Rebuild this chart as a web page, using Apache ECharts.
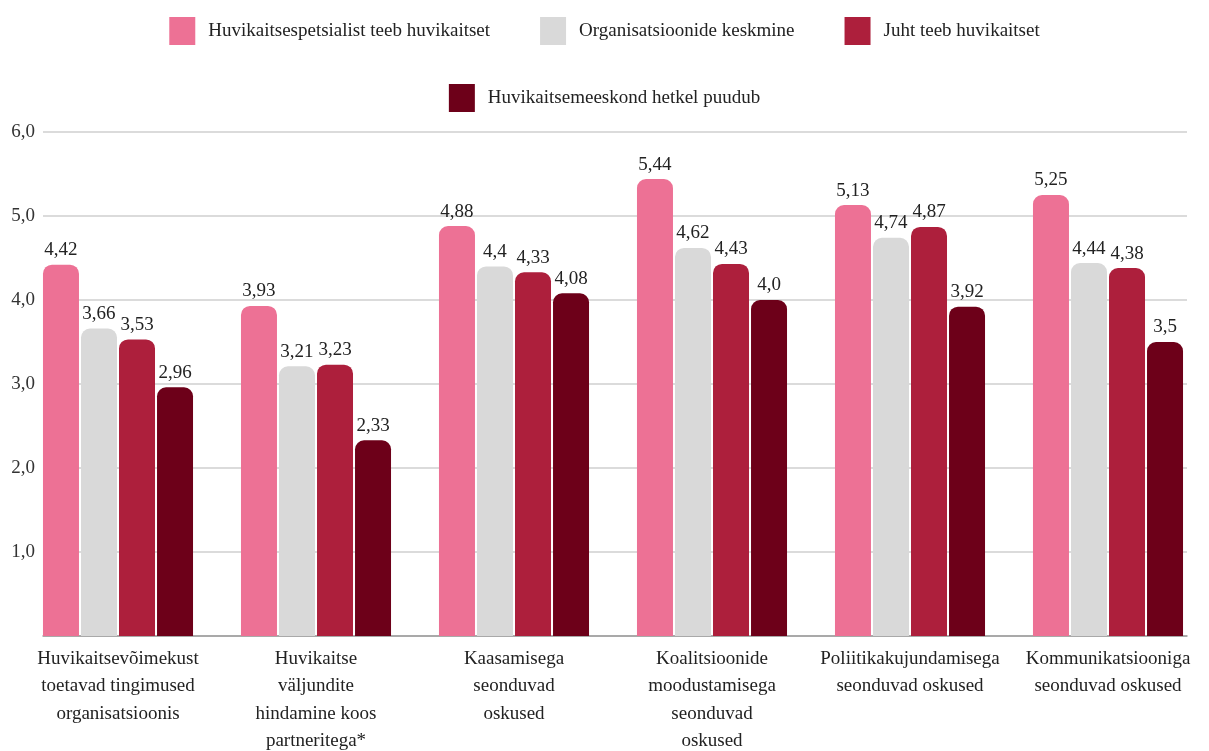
<!DOCTYPE html>
<html>
<head>
<meta charset="utf-8">
<script src="https://cdn.jsdelivr.net/npm/echarts@6/dist/echarts.min.js"></script>
<style>
  html, body { margin: 0; padding: 0; background: #fff; }
  #chart { width: 1209px; height: 751px; }
</style>
</head>
<body>
<div id="chart"></div>
<script>
// kategooriad (x-telg)
const categories = [
    'Huvikaitsevõimekust\ntoetavad tingimused\norganisatsioonis',
    'Huvikaitse\nväljundite\nhindamine koos\npartneritega*',
    'Kaasamisega\nseonduvad\noskused',
    'Koalitsioonide\nmoodustamisega\nseonduvad\noskused',
    'Poliitikakujundamisega\nseonduvad oskused',
    'Kommunikatsiooniga\nseonduvad oskused'
]
const seriesNames = [
    'Huvikaitsespetsialist teeb huvikaitset',
    'Organisatsioonide keskmine',
    'Juht teeb huvikaitset',
    'Huvikaitsemeeskond hetkel puudub'
]
const spetsialist = [4.42, 3.93, 4.88, 5.44, 5.13, 5.25]
const keskmine = [3.66, 3.21, 4.4, 4.62, 4.74, 4.44]
const juht = [3.53, 3.23, 4.33, 4.43, 4.87, 4.38]
const puudub = [2.96, 2.33, 4.08, 4.0, 3.92, 3.5]
const yTicks = [0, 1, 2, 3, 4, 5, 6]

const colors = ['#ED7195', '#D9D9D9', '#AD1F3C', '#6D0019']
const font = 'Liberation Serif'

// koma kümnendmärgina
function fmt(v) {
    const s = Math.round(v * 10) === v * 10 ? v.toFixed(1) : v.toFixed(2)
    return s.replace('.', ',')
}

const allData = [spetsialist, keskmine, juht, puudub]
const series = allData.map((d, i) => ({
    name: seriesNames[i],
    type: 'bar',
    xAxisIndex: 1,
    yAxisIndex: 1,
    data: d,
    barWidth: 36,
    barGap: '5.6%',
    itemStyle: { color: colors[i], borderRadius: [9, 9, 0, 0] },
    label: {
        show: true,
        position: 'top',
        distance: 5,
        formatter: p => fmt(p.value),
        fontFamily: font,
        fontSize: 19,
        color: '#222'
    }
}))

const chart = echarts.init(document.getElementById('chart'))
chart.setOption({
    animation: false,
    textStyle: { fontFamily: font },
    legend: [
        {
            data: seriesNames.slice(0, 3),
            top: 12,
            left: 'center',
            itemWidth: 26,
            itemHeight: 28,
            itemGap: 50,
            icon: 'rect',
            textStyle: { fontFamily: font, fontSize: 19, color: '#222', padding: [0, 0, 0, 8] }
        },
        {
            data: seriesNames.slice(3),
            top: 79,
            left: 'center',
            itemWidth: 26,
            itemHeight: 28,
            icon: 'rect',
            textStyle: { fontFamily: font, fontSize: 19, color: '#222', padding: [0, 0, 0, 8] }
        }
    ],
    grid: [
        // ruudustik ja y-telg
        { left: 43, right: 22, top: 132, bottom: 115, outerBoundsMode: 'none' },
        // tulbad
        { left: 19, right: 2, top: 132, bottom: 115, outerBoundsMode: 'none' }
    ],
    xAxis: [
        {
            gridIndex: 0,
            type: 'category',
            data: categories,
            axisLine: { lineStyle: { color: '#999', width: 1.5 } },
            axisTick: { show: false },
            axisLabel: { show: false }
        },
        {
            gridIndex: 1,
            type: 'category',
            data: categories,
            axisLine: { show: false },
            axisTick: { show: false },
            axisLabel: {
                margin: 9,
                fontFamily: font,
                fontSize: 19,
                lineHeight: 27.5,
                color: '#222',
                interval: 0
            }
        }
    ],
    yAxis: [
        {
            gridIndex: 0,
            type: 'value',
            min: yTicks[0],
            max: yTicks[yTicks.length - 1],
            interval: 1,
            axisLine: { show: false },
            axisTick: { show: false },
            splitLine: { lineStyle: { color: '#cfcfcf', width: 1.5 } },
            axisLabel: {
                margin: 8,
                fontFamily: font,
                fontSize: 19,
                color: '#333',
                formatter: v => (v === 0 ? '' : v.toFixed(1).replace('.', ','))
            }
        },
        {
            gridIndex: 1,
            type: 'value',
            min: yTicks[0],
            max: yTicks[yTicks.length - 1],
            interval: 1,
            show: false
        }
    ],
    series: series
})
</script>
</body>
</html>
